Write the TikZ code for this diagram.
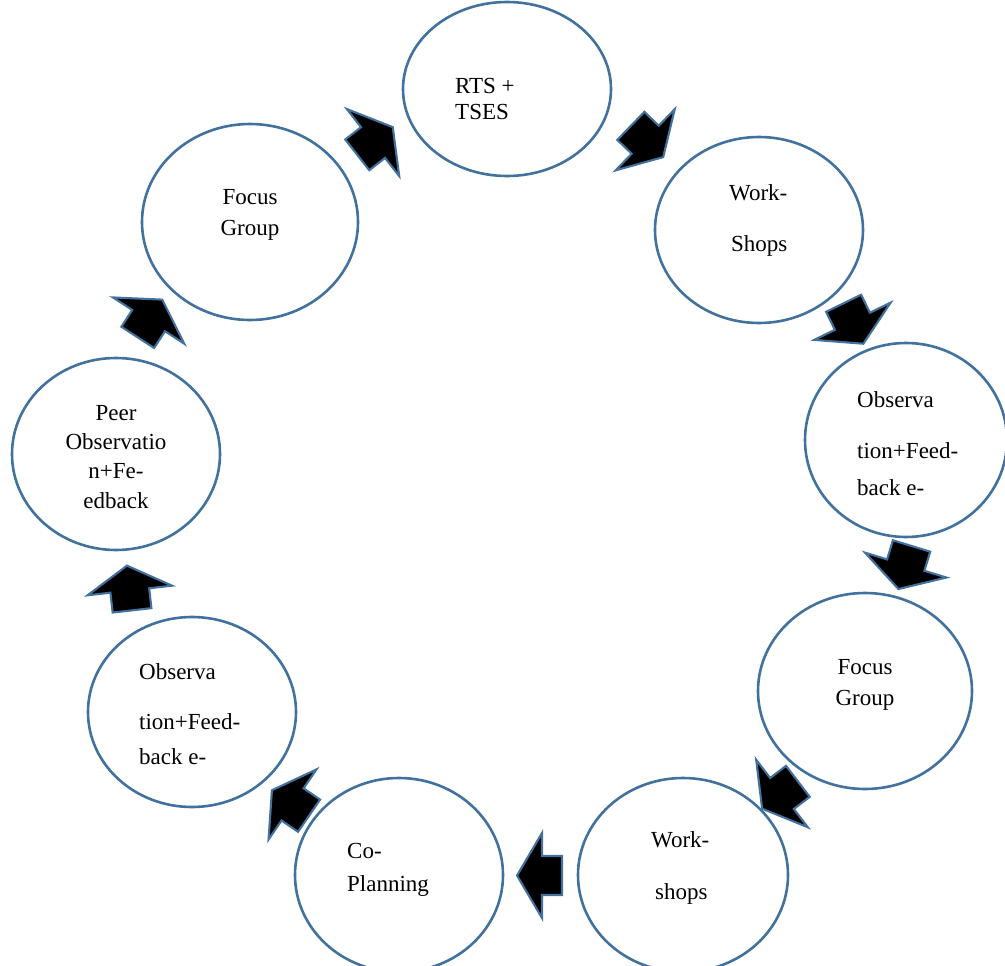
\documentclass[tikz,border=0pt]{standalone}
\usepackage{fontspec}
\setmainfont{Liberation Serif}
\usetikzlibrary{shapes.geometric}
\definecolor{rim}{RGB}{65,113,156}
\tikzset{
  stage/.style={ellipse, draw=rim, line width=2.6pt, inner sep=0pt},
  lbl/.style={inner sep=0pt, font=\fontsize{23}{29}\selectfont},
  lblw/.style={lbl, anchor=base west},
  lblc/.style={lbl, anchor=base},
  blockarrow/.style={fill=black, draw=rim, line width=2.1pt, line join=miter}
}
% block arrow: centre, direction angle
\newcommand\blockarrowat[2]{%
  \draw[blockarrow, shift={#1}, rotate=#2]
    (-22.5,-19.5) -- (-2.5,-19.5) -- (-2.5,-42.5) -- (22.5,0)
    -- (-2.5,42.5) -- (-2.5,19.5) -- (-22.5,19.5) -- cycle;
}
\begin{document}
\begin{tikzpicture}[x=1pt,y=1pt]
\useasboundingbox (0,0) rectangle (1005,-966);

% stages of the cycle
\node[stage, minimum width=208, minimum height=174] (rts)   at (507,-89)  {};
\node[stage, minimum width=208, minimum height=186] (wsA)   at (759,-230) {};
\node[stage, minimum width=202, minimum height=194] (obsA)  at (906,-440) {};
\node[stage, minimum width=214, minimum height=196] (fgA)   at (865,-691) {};
\node[stage, minimum width=210, minimum height=194] (wsB)   at (683,-875) {};
\node[stage, minimum width=208, minimum height=194] (coplan) at (399,-875) {};
\node[stage, minimum width=208, minimum height=190] (obsB)  at (192,-712) {};
\node[stage, minimum width=208, minimum height=192] (peer)  at (116,-454) {};
\node[stage, minimum width=216, minimum height=196] (fgB)   at (250,-222) {};

% labels
\node[lblw] (rts1) at (455,-94)  {RTS +};
\node[lblw] (rts2) at (455,-120) {TSES};

\node[lblw] (wsA1) at (729,-200) {Work-};
\node[lblw] (wsA2) at (731,-251) {Shops};

\node[lblw] (obsA1) at (857,-407) {Observa};
\node[lblw] (obsA2) at (857,-458) {tion+Feed-};
\node[lblw] (obsA3) at (857,-495) {back e-};

\node[lblc] (fgA1) at (865,-674) {Focus};
\node[lblc] (fgA2) at (865,-705) {Group};

\node[lblw] (wsB1) at (651,-847) {Work-};
\node[lblw] (wsB2) at (655,-899) {shops};

\node[lblw] (cp1) at (347,-858) {Co-};
\node[lblw] (cp2) at (347,-891) {Planning};

\node[lblw] (obsB1) at (139,-679) {Observa};
\node[lblw] (obsB2) at (139,-729) {tion+Feed-};
\node[lblw] (obsB3) at (139,-764) {back e-};

\node[lblc] (peer1) at (116,-420) {Peer};
\node[lblc] (peer2) at (116,-449) {Observatio};
\node[lblc] (peer3) at (116,-478) {n+Fe-};
\node[lblc] (peer4) at (116,-508) {edback};

\node[lblc] (fgB1) at (250,-204) {Focus};
\node[lblc] (fgB2) at (250,-235) {Group};

% arrows between the stages
\blockarrowat{(375,-141)}{38}
\blockarrowat{(647,-141.5)}{-44}
\blockarrowat{(853.5,-323.5)}{-64}
\blockarrowat{(905,-567.5)}{-107}
\blockarrowat{(780,-795)}{-142.6}
\blockarrowat{(539.5,-875.5)}{180}
\blockarrowat{(290.5,-803)}{145.6}
\blockarrowat{(129.5,-588)}{96.5}
\blockarrowat{(150,-318.5)}{57}
\end{tikzpicture}
\end{document}
